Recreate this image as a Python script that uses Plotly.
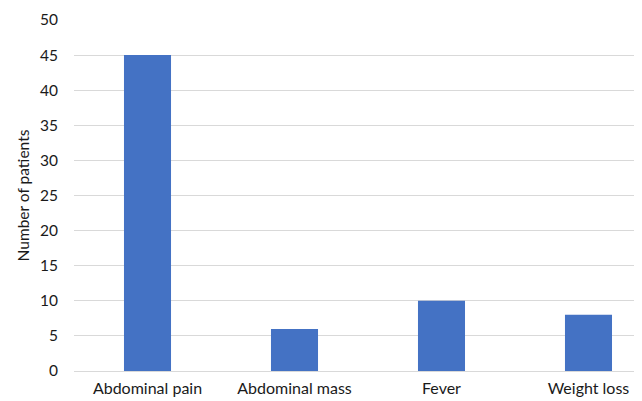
import plotly.graph_objects as go

categories = ["Abdominal pain", "Abdominal mass", "Fever", "Weight loss"]
patients = [45, 6, 10, 8]
y_ticks = [0, 5, 10, 15, 20, 25, 30, 35, 40, 45, 50]

fig = go.Figure(go.Bar(
    x=categories, y=patients,
    marker=dict(color="#4472C4", line=dict(width=0)),
    width=0.32,
))

xfont = dict(family="Lato, Open Sans, sans-serif", size=16, color="#1a1a1a")
yfont = dict(family="Lato, Open Sans, sans-serif", size=15.5, color="#1a1a1a")

# page body has an 8px default margin; figure is sized/offset to compensate
fig.update_layout(
    width=634, height=393,
    margin=dict(l=66, r=0, t=12, b=30, autoexpand=False),
    paper_bgcolor="white", plot_bgcolor="white",
    font=xfont,
    showlegend=False,
    xaxis=dict(
        range=[-0.5, 3.364], showgrid=False, zeroline=False, showline=False,
        tickfont=xfont, ticks="", ticklabelstandoff=6, automargin=False,
    ),
    yaxis=dict(
        range=[0, 50], tickvals=y_ticks, showgrid=True, gridcolor="#d9d9d9",
        gridwidth=1, zeroline=True, zerolinecolor="#d9d9d9", zerolinewidth=1,
        showline=False, tickfont=yfont, ticks="", ticklabelstandoff=15,
        automargin=False,
        title=dict(text="Number of patients", font=yfont, standoff=6),
    ),
)

fig.write_html("out.html")
